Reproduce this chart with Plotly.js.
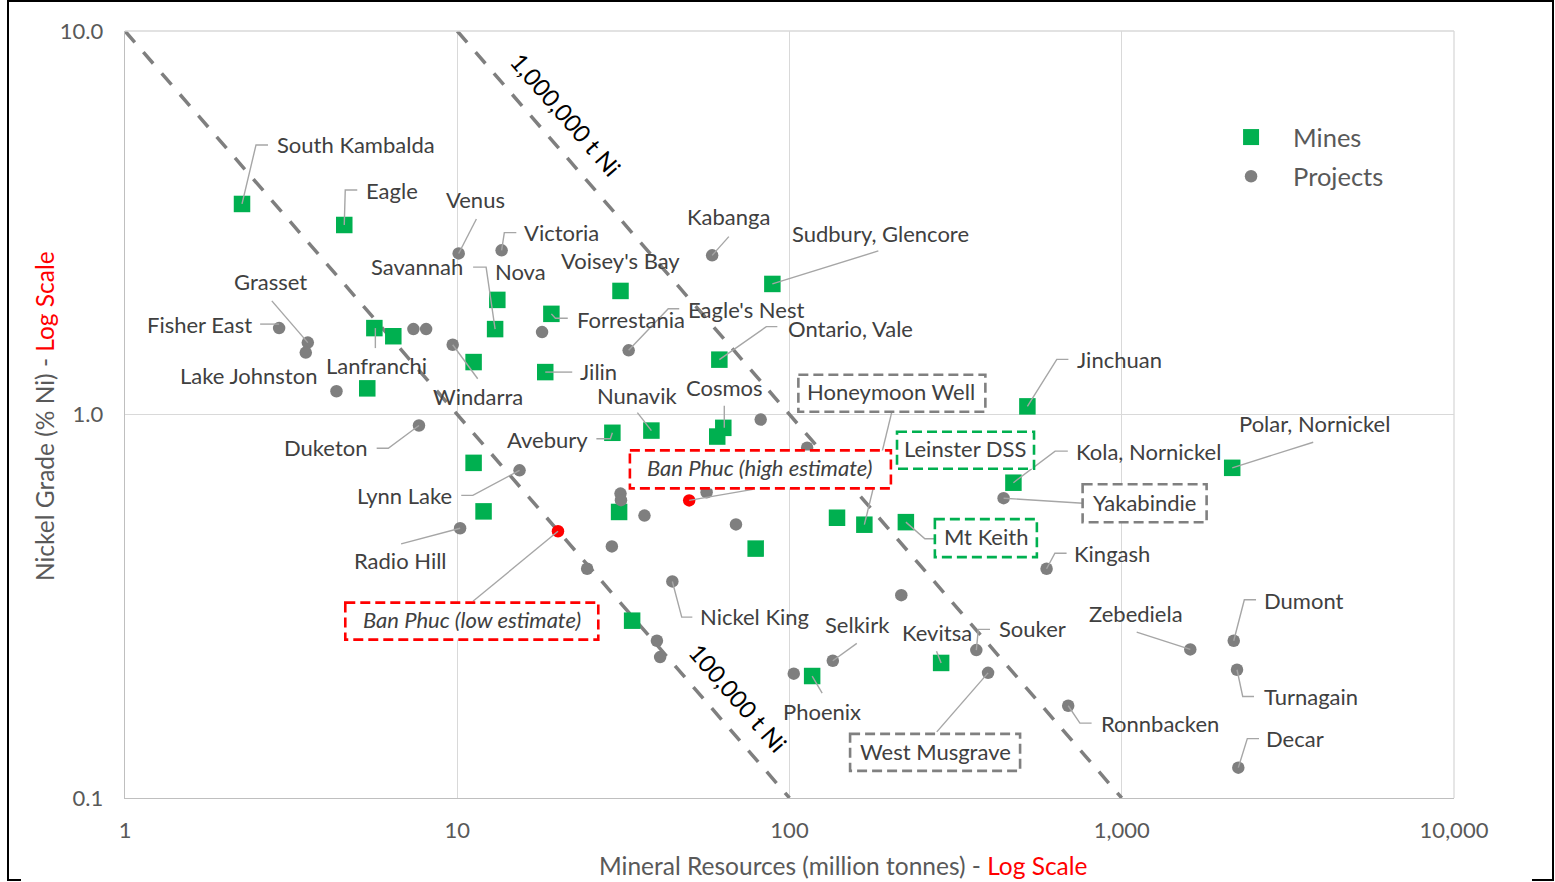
<!DOCTYPE html>
<html><head><meta charset="utf-8">
<script src="https://cdn.plot.ly/plotly-3.0.1.min.js"></script>
<style>
html,body{margin:0;padding:0;background:#fff;overflow:hidden}
#chart{width:1555px;height:882px;position:absolute;left:0;top:0}
.frame{position:absolute;background:#000;pointer-events:none}
</style></head><body>
<div id="chart"></div>
<div class="frame" style="left:7px;top:0;width:2px;height:881px"></div>
<div class="frame" style="left:7px;top:0;width:1547px;height:2px"></div>
<div class="frame" style="left:1552px;top:0;width:2px;height:881px"></div>
<div class="frame" style="left:7px;top:879px;width:14px;height:2px"></div>
<div class="frame" style="left:1532px;top:879px;width:22px;height:2px"></div>
<script>
// ---------------- DATA ----------------
const mineNames = ["South Kambalda","Eagle","Lanfranchi","","","","Nova","Savannah","Forrestania","Jilin",
  "Voisey's Bay","Sudbury, Glencore","Ontario, Vale","Cosmos","","Nunavik","Avebury","","","",
  "","","Leinster DSS","Honeymoon Well","Mt Keith","Kola, Nornickel","Jinchuan","Polar, Nornickel","Phoenix","Kevitsa"];
const mineTonnes = [2.25,4.57,5.63,6.42,5.36,11.2,13.2,13.0,19.2,18.4,
  31.0,88.8,61.5,63.2,60.6,38.4,29.3,11.2,12.0,30.7,
  33.6,79.1,139,168,224,472,520,2150,117,286];
const mineGrade = [3.54,3.12,1.68,1.60,1.17,1.37,1.99,1.67,1.83,1.29,
  2.10,2.19,1.39,0.923,0.876,0.908,0.896,0.748,0.559,0.557,
  0.290,0.447,0.538,0.516,0.524,0.664,1.05,0.726,0.208,0.225];

const projectNames = ["Fisher East","Grasset","","Lake Johnston","","","Windarra","Venus","Victoria","",
  "Eagle's Nest","Kabanga","","","Duketon","Lynn Lake","Radio Hill","","","",
  "","","","","Nickel King","","","","Selkirk","",
  "Souker","West Musgrave","Ronnbacken","Yakabindie","Kingash","Zebediela","Dumont","Turnagain","Decar"];
const projectTonnes = [2.91,3.55,3.50,4.33,7.38,8.06,9.69,10.1,13.6,18.0,
  32.8,58.5,81.9,113,7.67,15.4,10.2,31.0,31.1,36.6,
  56.3,69.0,29.2,24.6,44.4,39.9,40.8,217,135,103,
  365,396,690,441,594,1608,2173,2223,2243];
const projectGrade = [1.68,1.54,1.45,1.15,1.67,1.67,1.52,2.63,2.68,1.64,
  1.47,2.60,0.970,0.819,0.936,0.715,0.505,0.622,0.598,0.545,
  0.627,0.517,0.453,0.396,0.367,0.257,0.233,0.338,0.228,0.211,
  0.243,0.212,0.174,0.605,0.396,0.244,0.257,0.216,0.120];

const banPhucNames = ["Ban Phuc (low estimate)","Ban Phuc (high estimate)"];
const banPhucTonnes = [20.1,49.9];
const banPhucGrade = [0.496,0.597];

const isoNames = ["100,000 t Ni","1,000,000 t Ni"];
const isoTonnes = [[1,100],[10,1000]];
const isoGrade = [[10,0.1],[10,0.1]];

const xTickVals = [1,10,100,1000,10000];
const xTickText = ["1","10","100","1,000","10,000"];
const yTickVals = [0.1,1,10];
const yTickText = ["0.1","1.0","10.0"];

// ---------------- LABEL LAYOUT (pixel offsets from point) ----------------
const GREEN='#00B050', GREY='#808080', RED='#FF0000';
const lab = {
 "South Kambalda":{dx:114,dy:-58,p:[[0,0],[14,-59],[26,-59]]},
 "Eagle":{dx:48,dy:-33,p:[[0,0],[1,-35],[13,-35]]},
 "Lanfranchi":{dx:2,dy:39,p:[[1,0],[1,20]]},
 "Nova":{dx:23,dy:-27},
 "Savannah":{dx:-78,dy:-61,p:[[0,0],[-9,-62],[-22,-62]]},
 "Forrestania":{dx:80,dy:7,p:[[0,0],[4,4.4],[16.4,4.4]]},
 "Jilin":{dx:53,dy:1,p:[[0,0],[27,0]]},
 "Voisey's Bay":{dx:0,dy:-29},
 "Sudbury, Glencore":{dx:108,dy:-49,p:[[0,0],[106,-33]]},
 "Ontario, Vale":{dx:131,dy:-30,p:[[0,0],[47,-33],[58,-33]]},
 "Cosmos":{dx:1,dy:-39,p:[[1,0],[1,-22]]},
 "Nunavik":{dx:-14,dy:-34,p:[[0,0],[-14,-18]]},
 "Avebury":{dx:-65,dy:8,p:[[0,0],[-2,6],[-16,6]]},
 "Leinster DSS":{dx:128,dy:-68,box:{l:60,r:197,t:-86,b:-49,c:GREEN}},
 "Honeymoon Well":{dx:27,dy:-132,p:[[0,0],[27.4,-112.6]],box:{l:-66,r:121,t:-150,b:-113,c:GREY}},
 "Mt Keith":{dx:80,dy:16,p:[[0,0],[19,16.6],[28.3,16.6]],box:{l:29,r:131,t:-3,b:35,c:GREEN}},
 "Kola, Nornickel":{dx:135,dy:-30,p:[[0,0],[41.7,-31.6],[54.4,-31.6]]},
 "Jinchuan":{dx:92,dy:-45,p:[[0,0],[29.4,-47],[41,-47]]},
 "Polar, Nornickel":{dx:82,dy:-43,p:[[0,0],[81,-25.6]]},
 "Phoenix":{dx:10,dy:37,p:[[0,0],[10,17]]},
 "Kevitsa":{dx:-4,dy:-29,p:[[0,0],[-4.6,-11.7]]},
 "Fisher East":{dx:-80,dy:-2,p:[[0,-4],[-19,-4]]},
 "Grasset":{dx:-37,dy:-60,p:[[0,0],[-36,-41.7]]},
 "Lake Johnston":{dx:-88,dy:-14},
 "Windarra":{dx:25,dy:53,p:[[0,0],[25,34]]},
 "Venus":{dx:17,dy:-52,p:[[0,0],[17.7,-34.4]]},
 "Victoria":{dx:60,dy:-16,p:[[0,0],[2.7,-17.7],[14.7,-17.7]]},
 "Eagle's Nest":{dx:117,dy:-39,p:[[0,0],[39.6,-41.6],[50.6,-41.6]]},
 "Kabanga":{dx:16,dy:-37,p:[[0,0],[16.7,-18.7]]},
 "Duketon":{dx:-93,dy:23,p:[[0,0],[-30.7,22.7],[-42.3,22.7]]},
 "Lynn Lake":{dx:-115,dy:27,p:[[0,0],[-46.7,25],[-58.3,25]]},
 "Radio Hill":{dx:-60,dy:34,p:[[0,0],[-59,15.6]]},
 "Nickel King":{dx:82,dy:37,p:[[0,0],[9.4,35.7],[20,35.7]]},
 "Selkirk":{dx:25,dy:-35,p:[[0,0],[24,-17.3]]},
 "Souker":{dx:56,dy:-20,p:[[0,0],[2,-20.7],[13.7,-20.7]]},
 "West Musgrave":{dx:-53,dy:80,p:[[0,0],[-51.3,59]],box:{l:-138,r:32,t:61,b:98,c:GREY}},
 "Ronnbacken":{dx:92,dy:19,p:[[0,0],[11.7,17.4],[23.4,17.4]]},
 "Yakabindie":{dx:141,dy:6,p:[[0,0],[79.3,5]],box:{l:79,r:203,t:-14,b:24,c:GREY}},
 "Kingash":{dx:65,dy:-14,p:[[0,0],[8.3,-15.6],[20,-15.6]]},
 "Zebediela":{dx:-54,dy:-34,p:[[0,0],[-53.6,-17.3]]},
 "Dumont":{dx:70,dy:-39,p:[[0,0],[10.6,-41],[22.3,-41]]},
 "Turnagain":{dx:74,dy:28,p:[[0,0],[5.7,26.7],[17,26.7]]},
 "Decar":{dx:57,dy:-28,p:[[0,0],[9,-29],[20.7,-29]]},
 "Ban Phuc (low estimate)":{dx:-86,dy:90,p:[[0,0],[-85,70]],box:{l:-212.7,r:40.3,t:71.3,b:108.3,c:RED},it:true},
 "Ban Phuc (high estimate)":{dx:71,dy:-31,p:[[0,0],[63.7,-11]],box:{l:-59.3,r:201.7,t:-50,b:-12,c:RED},it:true}
};

const XR=[0,4], YR=[-1,1];
const xp = v => (Math.log10(v)-XR[0])/(XR[1]-XR[0]);
const yp = v => (Math.log10(v)-YR[0])/(YR[1]-YR[0]);
const FONT='Lato';
const LFS=22;      // point labels and tick labels
const TFS=24.5;    // axis titles
const YADJ=1.5;    // small upward nudge of label text

const lineShapes=[], boxShapes=[], annots=[];
function addLabels(names, xs, ys){
  names.forEach((n,i)=>{
    if(!n || !lab[n]) return;
    const L=lab[n], ax=xp(xs[i]), ay=yp(ys[i]);
    if(L.p){
      const path=L.p.map((q,k)=>(k?'L':'M')+q[0]+','+(-q[1])).join('');
      lineShapes.push({type:'path',xref:'paper',yref:'paper',xsizemode:'pixel',ysizemode:'pixel',
        xanchor:ax,yanchor:ay,path:path,line:{color:'#a6a6a6',width:1.4}});
    }
    if(L.box){
      const b=L.box;
      boxShapes.push({type:'rect',xref:'paper',yref:'paper',xsizemode:'pixel',ysizemode:'pixel',
        xanchor:ax,yanchor:ay,x0:b.l,x1:b.r,y0:-b.t,y1:-b.b,fillcolor:'#ffffff',
        line:{color:b.c,width:2.6,dash:'10px,5px'}});
    }
    annots.push({xref:'paper',yref:'paper',x:ax,y:ay,xshift:L.dx,yshift:-L.dy+YADJ,
      text:L.it?'<i>'+n+'</i>':n,showarrow:false,xanchor:'center',yanchor:'middle',
      font:{family:FONT,size:LFS,color:'#404040'}});
  });
}
addLabels(mineNames,mineTonnes,mineGrade);
addLabels(projectNames,projectTonnes,projectGrade);
addLabels(banPhucNames,banPhucTonnes,banPhucGrade);

// iso-line labels (rotated along the lines)
const isoLabelPos=[{x:0.4612,y:0.1304},{x:0.3318,y:0.8905}];
isoNames.forEach((n,i)=>annots.push({xref:'paper',yref:'paper',x:isoLabelPos[i].x,y:isoLabelPos[i].y,
  text:n,showarrow:false,textangle:49,xanchor:'center',yanchor:'middle',
  font:{family:FONT,size:24,color:'#000000'}}));

// axis titles
annots.push({xref:'paper',yref:'paper',x:0.5406,y:-0.0874,showarrow:false,xanchor:'center',yanchor:'middle',
  text:'Mineral Resources (million tonnes) - <span style="color:#FF0000">Log Scale</span>',
  font:{family:FONT,size:TFS,color:'#595959'}});
annots.push({xref:'paper',yref:'paper',x:-0.0609,y:0.498,showarrow:false,xanchor:'center',yanchor:'middle',textangle:-90,
  text:'Nickel Grade (% Ni) - <span style="color:#FF0000">Log Scale</span>',
  font:{family:FONT,size:TFS,color:'#595959'}});

// plot-area top/right edges (light grid colour)
const edgeShapes=[
  {type:'line',xref:'paper',yref:'paper',x0:0,x1:1,y0:1,y1:1,line:{color:'#d9d9d9',width:1.3}},
  {type:'line',xref:'paper',yref:'paper',x0:1,x1:1,y0:0,y1:1,line:{color:'#d9d9d9',width:1.3}}
];

const traces=[];
isoNames.forEach((n,i)=>traces.push({x:isoTonnes[i],y:isoGrade[i],type:'scatter',mode:'lines',name:n,
  showlegend:false,hoverinfo:'skip',line:{color:'#7f7f7f',width:3.5,dash:'15px,13px'}}));
traces.push({x:mineTonnes,y:mineGrade,text:mineNames,type:'scatter',mode:'markers',name:'Mines',legendgroup:'m',
  marker:{symbol:'square',size:16.5,color:GREEN}});
traces.push({x:projectTonnes,y:projectGrade,text:projectNames,type:'scatter',mode:'markers',name:'Projects',legendgroup:'p',
  marker:{symbol:'circle',size:12.5,color:'#7f7f7f'}});
traces.push({x:banPhucTonnes,y:banPhucGrade,text:banPhucNames,type:'scatter',mode:'markers',name:'Ban Phuc',
  showlegend:false,legendgroup:'b',marker:{symbol:'circle',size:12.5,color:RED}});

const axCommon={type:'log',showgrid:true,gridcolor:'#d9d9d9',gridwidth:1.3,showline:true,linecolor:'#bfbfbf',
  linewidth:1.3,ticks:'',zeroline:false,tickmode:'array',tickfont:{family:FONT,size:LFS,color:'#595959'},fixedrange:true};

const layout={
  width:1555,height:882,autosize:false,
  margin:{l:125,r:101,t:31,b:84,pad:0},
  paper_bgcolor:'#ffffff',plot_bgcolor:'#ffffff',
  font:{family:FONT,color:'#595959'},
  xaxis:Object.assign({},axCommon,{range:XR,tickvals:xTickVals,ticktext:xTickText,ticklabelstandoff:12}),
  yaxis:Object.assign({},axCommon,{range:YR,tickvals:yTickVals,ticktext:yTickText,ticklabelstandoff:16}),
  showlegend:true,
  legend:{x:0.8157,xanchor:'left',y:0.8918,yanchor:'top',itemwidth:74,bgcolor:'rgba(0,0,0,0)',
    traceorder:'grouped',tracegroupgap:3,
    font:{family:FONT,size:25.5,color:'#595959'}},
  shapes:edgeShapes.concat(lineShapes,boxShapes),
  annotations:annots,
  hovermode:false
};
Plotly.newPlot('chart',traces,layout,{displayModeBar:false,staticPlot:true});
</script>
</body></html>
